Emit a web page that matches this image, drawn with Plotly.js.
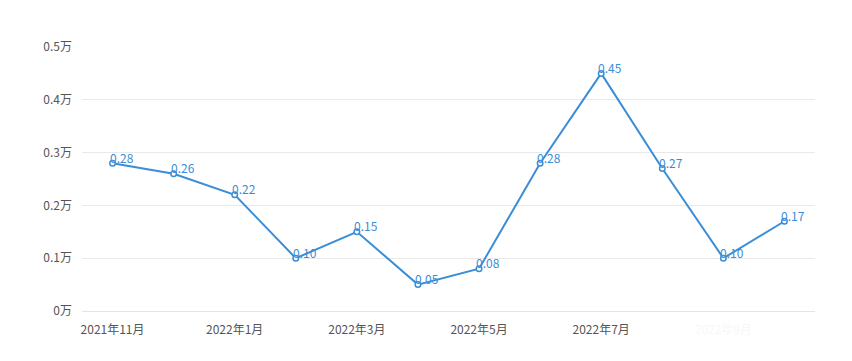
<!DOCTYPE html>
<html>
<head>
<meta charset="utf-8">
<script src="https://cdn.plot.ly/plotly-3.0.1.min.js"></script>
<style>html,body{margin:0;padding:0;background:#fff;}#chart{width:852px;height:361px;}</style>
</head>
<body>
<div id="chart"></div>
<script>
const months = ["2021年11月","2021年12月","2022年1月","2022年2月","2022年3月","2022年4月","2022年5月","2022年6月","2022年7月","2022年8月","2022年9月","2022年10月"];
const values = [0.28,0.26,0.22,0.10,0.15,0.05,0.08,0.28,0.45,0.27,0.10,0.17];
const valueLabels = ["0.28","0.26","0.22","0.10","0.15","0.05","0.08","0.28","0.45","0.27","0.10","0.17"];
const xTickIdx = [0,2,4,6,8,10];
const faintTickIdx = [10];
const yTicks = [0,0.1,0.2,0.3,0.4,0.5];
const yTickText = ["0万","0.1万","0.2万","0.3万","0.4万","0.5万"];

const blue = '#3a8dd6';
const font = '"Noto Sans CJK SC", "Microsoft YaHei", sans-serif';
const idx = months.map((m,i)=>i);

const trace = {
  x: idx, y: values, type: 'scatter', mode: 'lines+markers',
  line: {color: blue, width: 2},
  marker: {symbol: 'circle', size: 5.5, color: '#fff', line: {color: blue, width: 1.5}},
  hoverinfo: 'none'
};

const annotations = idx.map(i => ({
  x: i, y: values[i], xref: 'x', yref: 'y', text: valueLabels[i], showarrow: false,
  xanchor: 'left', yanchor: 'middle', xshift: -5, yshift: 6,
  font: {family: font, size: 12, color: blue}
}));

const layout = {
  width: 852, height: 361,
  margin: {l: 82, r: 37, t: 47, b: 50},
  paper_bgcolor: '#fff', plot_bgcolor: '#fff',
  showlegend: false,
  font: {family: font, size: 12, color: '#555'},
  xaxis: {
    range: [-0.5, 11.5], tickmode: 'array',
    tickvals: xTickIdx,
    ticktext: xTickIdx.map(i => faintTickIdx.includes(i) ? '<span style="color:#f7f7f7">' + months[i] + '</span>' : months[i]),
    showgrid: false, zeroline: false, showline: false, ticks: '', ticklen: 0,
    ticklabelstandoff: 10,
    tickfont: {family: font, size: 12, color: '#555'}, fixedrange: true
  },
  yaxis: {
    range: [0, 0.5], tickmode: 'array', tickvals: yTicks, ticktext: yTickText,
    showgrid: true, gridcolor: '#e9e9e9', gridwidth: 1, zeroline: true, zerolinecolor: '#e4e4e4', zerolinewidth: 1,
    showline: false, ticks: '', ticklabelstandoff: 9,
    tickfont: {family: font, size: 12, color: '#555'}, fixedrange: true
  },
  annotations: annotations
};

Plotly.newPlot('chart', [trace], layout, {displayModeBar: false, staticPlot: true});
</script>
</body>
</html>
